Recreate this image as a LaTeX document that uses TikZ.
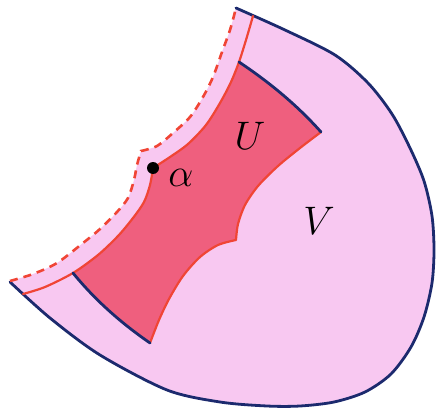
\documentclass[tikz,border=0pt]{standalone}
\usepackage{graphicx}
\definecolor{lpink}{HTML}{F8C8F1}
\definecolor{dpink}{HTML}{EF5F7E}
\definecolor{rline}{HTML}{F04535}
\definecolor{bline}{HTML}{1C2A6E}
\newcommand{\biglab}[1]{\scalebox{1.6}{\Huge $#1$}}
\tikzset{
  blueline/.style={draw=bline, line width=2.8pt, line cap=round, line join=round},
  redline/.style={draw=rline, line width=2.2pt, line cap=round, line join=round},
  reddash/.style={draw=rline, line width=2.6pt, dash pattern=on 8pt off 6pt},
  lab/.style={inner sep=0pt}
}
\begin{document}
\begin{tikzpicture}[x=1pt, y=-1pt]
\useasboundingbox (0,0) rectangle (436,409);
% V region
\fill[lpink] plot[smooth] coordinates {(236,8) (285,30) (335,55) (368,83) (392,114) (410,148) (424,181) (432,216) (434,250) (432,283) (424,317) (411,347) (391,374) (365,392) (334,402) (300,406) (267,406) (220,402) (167,390) (100,355) (50,318) (10,282)}
  -- plot[smooth] coordinates {(10,281) (33,274) (57,263) (83,243) (100,229) (117,212) (128,198) (134,180) (137,165) (141,151)}
  -- plot[smooth] coordinates {(141,151) (157,146) (173,133) (190,117) (203,97) (213,77) (222,52) (230,30) (236,8)} -- cycle;
% U region
\fill[dpink] plot[smooth] coordinates {(239,62) (231,82) (220,103) (206,125) (188,144) (170,157) (153,168)}
  -- plot[smooth] coordinates {(153,168) (150,185) (144,202) (133,218) (118,236) (98,255) (73,273)}
  .. controls (95,300) and (121,323) .. (150,343)
  -- plot[smooth] coordinates {(150,343) (159,320) (169,299) (183,276) (200,257) (218,245) (236,240)}
  -- plot[smooth] coordinates {(236,240) (238,224) (245,205) (258,186) (278,166) (300,148) (321,132)}
  .. controls (297,105) and (269,82) .. (239,62) -- cycle;
% outer blue boundary
\draw[blueline] plot[smooth] coordinates {(236,8) (285,30) (335,55) (368,83) (392,114) (410,148) (424,181) (432,216) (434,250) (432,283) (424,317) (411,347) (391,374) (365,392) (334,402) (300,406) (267,406) (220,402) (167,390) (100,355) (50,318) (10,282)};
% dashed boundary
\draw[reddash] plot[smooth] coordinates {(10,281) (33,274) (57,263) (83,243) (100,229) (117,212) (128,198) (134,180) (137,165) (141,151)}
  -- plot[smooth] coordinates {(141,151) (157,146) (173,133) (190,117) (203,97) (213,77) (222,52) (230,30) (236,8)};
% red solid curve
\draw[redline] plot[smooth] coordinates {(253,16) (246,40) (239,62) (231,82) (220,103) (206,125) (188,144) (170,157) (153,168)}
  -- plot[smooth] coordinates {(153,168) (150,185) (144,202) (133,218) (118,236) (98,255) (73,273) (45,287) (23,294)};
% U right edge
\draw[redline] plot[smooth] coordinates {(150,343) (159,320) (169,299) (183,276) (200,257) (218,245) (236,240)}
  -- plot[smooth] coordinates {(236,240) (238,224) (245,205) (258,186) (278,166) (300,148) (321,132)};
% U blue edges
\draw[blueline] (73,273) .. controls (95,300) and (121,323) .. (150,343);
\draw[blueline] (321,132) .. controls (297,105) and (269,82) .. (239,62);
% point alpha
\fill[black] (153,168) circle (6pt);
\node[lab] (alpha) at (181,178) {\biglab{\alpha}};
\node[lab] (U) at (250,136) {\biglab{U}};
\node[lab] (V) at (319,221) {\biglab{V}};
\end{tikzpicture}
\end{document}
